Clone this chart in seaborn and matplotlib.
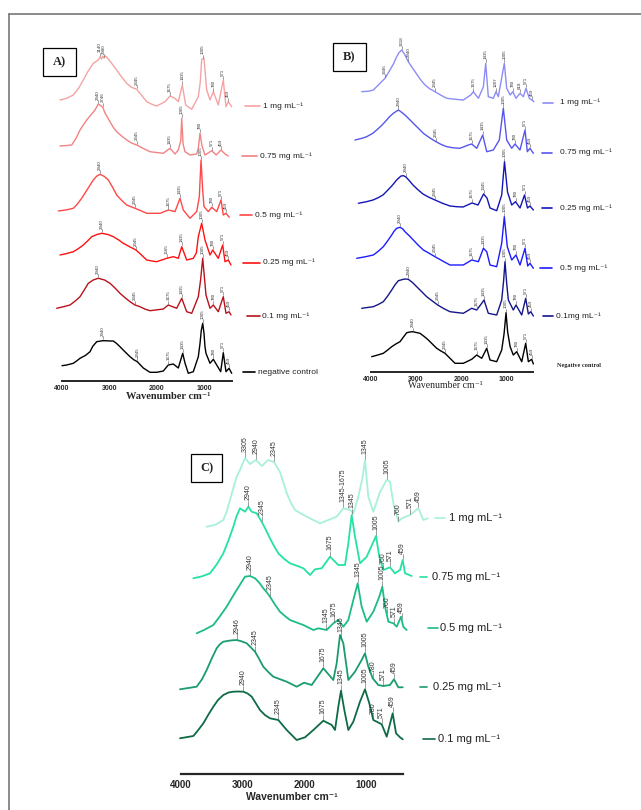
import numpy as np
import pandas as pd
import matplotlib
matplotlib.use('Agg')
import matplotlib.pyplot as plt
from matplotlib.lines import Line2D
from matplotlib.patches import Rectangle
import seaborn as sns

# ---------------- data: (wavenumber cm-1, relative absorbance) ----------------
# panel A (red series)
a_1mg = [(4042, 9.3), (3900, 11), (3761, 14.3), (3650, 21), (3550, 29.3), (3450, 38), (3338, 46), (3233, 49.3),
         (3197, 52.3), (3161, 50.3), (3140, 53.3), (3112, 51.3), (3080, 53.3), (3021, 50.3), (2950, 46),
         (2844, 39.3), (2750, 33), (2632, 26), (2530, 22), (2421, 20), (2300, 13), (2209, 7.6), (2100, 5),
         (1998, 3.3), (1822, 7.6), (1717, 13.3), (1611, 11), (1541, 7.6), (1457, 24.3), (1385, 4.3), (1258, 0),
         (1118, 12.6), (1075, 28), (1047, 50), (998, 51), (970, 35), (941, 19.3), (871, 9.3), (801, 17.6),
         (696, 4.3), (590, 29.3), (533, 2.6), (484, 7.6), (412, 2.6)]
a_075 = [(4042, 10), (3900, 10.5), (3795, 11), (3700, 18), (3619, 26), (3550, 31), (3478, 36), (3390, 41),
         (3302, 46), (3233, 52), (3140, 49), (3091, 43), (2985, 34.3), (2920, 29), (2844, 24.3), (2740, 20),
         (2632, 16), (2530, 13), (2421, 11), (2280, 7.5), (2140, 4.3), (2000, 3.5), (1858, 2.7), (1717, 7.7),
         (1611, 2), (1541, 6), (1490, 15), (1469, 37.7), (1440, 12), (1400, 4.3), (1294, 1), (1152, 2),
         (1118, 8), (1082, 22.7), (1040, 10), (977, 1), (835, 5.3), (740, 1), (638, 6), (554, 2), (484, 0)]
a_05 = [(4078, 7.3), (3900, 8.5), (3761, 10), (3680, 14), (3584, 20), (3450, 30), (3338, 38.3), (3270, 42),
        (3197, 44), (3110, 42), (3021, 38.3), (2930, 31), (2844, 23.3), (2740, 18), (2632, 13.3), (2457, 10),
        (2330, 7.5), (2209, 5), (2060, 5), (1928, 5), (1753, 8.3), (1611, 6.7), (1505, 20), (1436, 8.3),
        (1294, 0), (1152, 6.7), (1097, 21.6), (1061, 58.3), (1025, 28), (998, 11.7), (907, 6.7), (835, 11),
        (729, 6.7), (638, 18.3), (590, 3.3), (533, 5), (463, 1)]
a_025 = [(4042, 10), (3900, 11.5), (3761, 13.3), (3650, 16.5), (3550, 20), (3450, 24.5), (3372, 28.3),
         (3260, 30.5), (3161, 31.7), (3030, 30.5), (2915, 28.3), (2800, 25), (2704, 21.7), (2560, 18),
         (2436, 15), (2320, 10), (2209, 5), (2100, 4), (1998, 3.3), (1786, 6.7), (1647, 8.3), (1541, 6.7),
         (1469, 18.3), (1364, 5), (1224, 6.7), (1160, 12), (1118, 28.3), (1047, 41.7), (977, 25), (871, 10),
         (814, 15), (696, 6.7), (603, 20), (554, 3.3), (484, 5), (427, 0)]
a_01 = [(4112, 6.7), (3950, 8.5), (3831, 10), (3720, 14), (3619, 18.3), (3530, 25), (3444, 31.7), (3340, 35),
        (3233, 36.7), (3100, 35), (2985, 31.7), (2880, 27), (2774, 21.7), (2660, 17), (2562, 13.3), (2457, 10),
        (2351, 8.3), (2250, 6), (2140, 4.3), (1858, 6), (1753, 10), (1575, 6.7), (1469, 16.7), (1364, 3.3),
        (1258, 1.7), (1118, 18.3), (1070, 35), (1025, 56.7), (990, 38), (956, 20), (871, 6.7), (801, 10),
        (696, 3.3), (590, 18.3), (533, 1.7), (469, 3.3), (427, 0)]
a_neg = [(4000, 7.6), (3900, 8.3), (3761, 10), (3700, 12), (3619, 15), (3500, 18), (3408, 21.6), (3350, 27),
         (3266, 31.6), (3140, 32.6), (3050, 32.5), (2985, 32.3), (2915, 32.3), (2850, 30), (2774, 26.6),
         (2700, 23), (2562, 16.6), (2480, 13.5), (2408, 11.6), (2281, 5.3), (2140, 1), (1998, 1), (1858, 2.3),
         (1753, 8.3), (1647, 9.3), (1541, 5.3), (1448, 20), (1400, 10.3), (1330, 0), (1224, 1.6), (1118, 16.6),
         (1082, 30), (1055, 43), (1025, 50), (998, 40), (977, 26.6), (956, 20), (871, 10), (801, 14),
         (729, 8.3), (645, 1.6), (590, 20.6), (533, 1.6), (469, 5), (412, 0)]

# panel B (blue series)
b_1mg = [(4206, 10), (4050, 10.5), (3948, 11.7), (3800, 18.4), (3690, 23.4), (3579, 31.7), (3500, 38),
         (3431, 45), (3380, 49), (3319, 51.7), (3246, 46.7), (3173, 40), (3100, 35), (3024, 30), (2900, 22),
         (2803, 16.7), (2700, 13), (2581, 10), (2450, 6.5), (2322, 3.4), (2150, 2.5), (1953, 1.7), (1789, 6.7),
         (1731, 10), (1619, 3.4), (1508, 15), (1457, 38.4), (1399, 5), (1288, 3.4), (1228, 10), (1177, 5),
         (1084, 28.4), (1044, 38.4), (991, 13.4), (915, 6.7), (856, 10), (785, 3.4), (696, 8.4), (622, 5),
         (563, 13.4), (489, 3.4), (437, 1.7), (386, 0)]
b_075 = [(4355, 13.3), (4200, 15), (4096, 16.6), (3960, 20), (3874, 23.3), (3760, 28), (3652, 33.3),
         (3580, 37), (3505, 40), (3394, 43.3), (3320, 41), (3246, 38.3), (3150, 34), (3062, 30), (2950, 25),
         (2839, 20), (2700, 15.5), (2559, 11.6), (2450, 9), (2322, 6.6), (2180, 5.5), (2027, 5), (1843, 8.3),
         (1767, 9.3), (1656, 5), (1523, 18.3), (1434, 1.6), (1288, 3.3), (1155, 13.3), (1066, 45), (991, 13.3),
         (880, 5), (807, 9.3), (696, 3.3), (585, 23.3), (534, 1.6), (475, 5), (400, 0)]
b_025 = [(4280, 7.4), (4100, 9), (3955, 10.7), (3840, 13), (3735, 15.7), (3640, 20), (3541, 24.7), (3480, 28),
         (3431, 30.7), (3335, 34.7), (3280, 35), (3224, 33.7), (3150, 30), (3069, 25.7), (2960, 21),
         (2847, 16.7), (2720, 13.5), (2581, 10.7), (2420, 7.5), (2248, 4.7), (2100, 4), (1960, 3.7),
         (1760, 7.7), (1627, 5.7), (1505, 16.7), (1428, 12.7), (1361, 2.7), (1213, 0), (1102, 15.7), (1040, 49),
         (973, 18.7), (880, 5.7), (796, 9), (696, 2.7), (596, 15.7), (530, 2.7), (475, 4.7), (400, 0.7)]
b_05 = [(4317, 10), (4130, 11.5), (3948, 13.3), (3840, 17), (3727, 21.6), (3630, 27.5), (3541, 33.3),
        (3490, 37), (3431, 40), (3357, 41), (3300, 39.5), (3246, 36.6), (3150, 32.5), (3062, 28.3), (2950, 23),
        (2839, 18.3), (2710, 15), (2581, 11.6), (2420, 7.5), (2248, 3.3), (2100, 3.3), (1953, 3.3), (1767, 8.3),
        (1619, 6.6), (1508, 20), (1434, 16.6), (1361, 3.3), (1213, 1.6), (1102, 25), (1044, 51.6), (978, 21.6),
        (880, 8.3), (785, 13.3), (696, 3.3), (585, 20), (526, 2.3), (475, 5), (400, 0)]
b_01 = [(4206, 7.7), (4080, 8.5), (3948, 9.3), (3840, 11.5), (3727, 14.3), (3630, 20), (3541, 26),
        (3470, 31), (3394, 35.3), (3284, 36.7), (3230, 37), (3173, 36.7), (3080, 33.5), (2987, 29.3),
        (2880, 24.5), (2765, 19.3), (2640, 15), (2521, 11), (2390, 7.5), (2248, 4.3), (2100, 3.5), (1953, 2.7),
        (1767, 7.7), (1656, 6), (1545, 12.7), (1494, 16), (1399, 2.7), (1213, 1), (1102, 16), (1060, 35),
        (1029, 54.3), (990, 32), (955, 16), (845, 6), (785, 11), (658, 1), (570, 17.7), (511, 2), (458, 4.3),
        (400, 0)]
b_neg = [(3985, 7.3), (3850, 9), (3727, 10.7), (3630, 14), (3541, 17.3), (3450, 20), (3357, 22.3), (3280, 27),
         (3208, 31.3), (3140, 32), (3075, 32.3), (2914, 30.7), (2820, 27.5), (2729, 24), (2640, 20),
         (2543, 15.7), (2450, 13), (2359, 10.7), (2300, 8), (2248, 5.7), (2137, 0.7), (1953, 0.7), (1767, 4.7),
         (1656, 9), (1545, 5.7), (1434, 15.7), (1361, 4), (1213, 2.3), (1102, 14), (1050, 30), (1006, 51.3),
         (970, 32), (915, 17.3), (845, 9), (770, 12.3), (658, 2.3), (570, 20.7), (511, 2.3), (437, 4.7), (400, 0)]

# panel C (green series)
c_1mg = [(3584, 0), (3440, 2), (3314, 6.7), (3260, 15), (3206, 26.7), (3150, 39), (3098, 50), (3044, 56.7),
         (2963, 68.7), (2882, 62.7), (2785, 66.7), (2687, 60.7), (2590, 66.7), (2493, 64.7), (2396, 54.7),
         (2340, 44), (2287, 33.7), (2220, 24), (2152, 16.7), (2050, 13), (1963, 10), (1850, 6.5), (1747, 3.4),
         (1612, 6.7), (1477, 10), (1369, 18.4), (1261, 16.7), (1207, 13.4), (1126, 30), (1055, 50), (1018, 66.7),
         (964, 30), (883, 15), (775, 34.7), (666, 46.7), (613, 45), (558, 23.4), (477, 5), (423, 8.4),
         (288, 11.7), (153, 18.4), (72, 6.7), (0, 8.4)]
c_075 = [(3800, 0), (3660, 2), (3530, 5), (3420, 14), (3314, 25), (3230, 38), (3152, 51.6), (3100, 62),
         (3044, 70), (2963, 66.6), (2909, 71.6), (2855, 66.6), (2774, 65), (2693, 56.6), (2620, 48), (2558, 40),
         (2490, 32), (2423, 25), (2330, 19.5), (2233, 15), (2120, 12.5), (2017, 10), (1909, 3.3), (1828, 9),
         (1720, 10), (1585, 21.6), (1450, 13.3), (1342, 13.3), (1288, 35), (1234, 63.3), (1180, 41.6),
         (1099, 15), (990, 21.6), (893, 35), (839, 42.3), (786, 21.6), (721, 8.3), (613, 11), (532, 5),
         (450, 8.3), (407, 18.3), (369, 5), (261, 2.3)]
c_05 = [(3746, 0), (3620, 3.5), (3476, 8.3), (3370, 17), (3260, 26.6), (3180, 35), (3098, 43.3), (3030, 50),
        (2963, 56.6), (2882, 57.3), (2800, 55), (2730, 50.5), (2666, 45), (2610, 41), (2558, 36.6), (2480, 29),
        (2396, 21.6), (2310, 17), (2233, 13.3), (2017, 8.3), (1855, 3.3), (1774, 5), (1639, 3.3), (1531, 10),
        (1450, 13.3), (1369, 6.6), (1288, 13.3), (1207, 33.3), (1136, 50), (1072, 26.6), (990, 11.6),
        (883, 21.6), (786, 36.6), (737, 46.6), (693, 26.6), (639, 11.6), (558, 10), (504, 6.6), (434, 16.6),
        (397, 6.6), (343, 3.3)]
c_025 = [(4016, 0), (3746, 2.6), (3660, 10), (3584, 19.3), (3500, 31), (3422, 41), (3370, 45), (3314, 47.6),
         (3200, 48.8), (3098, 49.3), (3020, 48), (2935, 46), (2870, 42), (2800, 37.6), (2730, 30), (2666, 22.6),
         (2580, 17), (2504, 12.6), (2287, 7.6), (2125, 2.6), (2006, 6.6), (1882, 4.3), (1693, 21), (1531, 9.3),
         (1477, 26), (1423, 54.3), (1369, 46), (1288, 9.3), (1180, 17.6), (1072, 29.3), (1018, 36), (964, 22.6),
         (893, 11), (802, 4.3), (721, 3.3), (613, 4.3), (548, 10), (478, 2), (406, 2)]
c_01 = [(4016, 1.7), (3800, 4), (3720, 10), (3638, 16.7), (3560, 25), (3476, 33.3), (3400, 40), (3314, 45),
        (3230, 47.5), (3152, 48.3), (3070, 48.5), (2990, 48.3), (2920, 46.5), (2854, 43.3), (2790, 37),
        (2720, 30), (2640, 25), (2558, 21.7), (2423, 20), (2287, 10), (2125, 0), (1990, 2.7), (1855, 10),
        (1693, 19.3), (1557, 15), (1504, 10), (1450, 33.3), (1407, 49.3), (1353, 30), (1288, 10), (1207, 18.3),
        (1099, 38.3), (1018, 50.7), (948, 36.7), (883, 20), (828, 18.3), (747, 15.7), (666, 3.3), (569, 26.7),
        (515, 6.7), (450, 2.7), (406, 0.7)]

# peak annotations: (wavenumber position, label)
a_1mg_pk = [(3197, '3140'), (3112, '2980'), (2421, '2345'), (1717, '1675'), (1457, '1435'), (1020, '1005'),
            (801, '780'), (590, '571'), (484, '459')]
a_075_pk = [(3233, '2940'), (3140, '2746'), (2421, '2345'), (1717, '1435'), (1469, '1005'), (1082, '780'),
            (835, '571'), (638, '459')]
a_05_pk = [(3197, '2940'), (2457, '2345'), (1753, '1675'), (1505, '1435'), (1061, '1005'), (835, '780'),
           (638, '571'), (533, '459')]
a_025_pk = [(3161, '2940'), (2436, '2345'), (1786, '1565'), (1469, '1435'), (1047, '1005'), (814, '780'),
            (603, '571'), (484, '459')]
a_01_pk = [(3233, '2940'), (2457, '2345'), (1753, '1675'), (1469, '1435'), (1025, '1005'), (801, '780'),
           (590, '571'), (469, '459')]
a_neg_pk = [(3140, '2940'), (2408, '2345'), (1753, '1675'), (1448, '1435'), (1025, '1005'), (801, '780'),
            (590, '571'), (469, '459')]
b_1mg_pk = [(3690, '3346'), (3319, '3318'), (3173, '2940'), (2581, '2345'), (1731, '1675'), (1457, '1435'),
            (1228, '1207'), (1044, '1005'), (856, '780'), (696, '618'), (563, '571'), (437, '459')]
b_075_pk = [(3394, '2940'), (2559, '2345'), (1767, '1675'), (1523, '1435'), (1066, '1005'), (807, '780'),
            (585, '571'), (475, '459')]
b_025_pk = [(3224, '2940'), (2581, '2345'), (1760, '1675'), (1505, '1345'), (1040, '1005'), (796, '780'),
            (596, '571'), (475, '459')]
b_05_pk = [(3357, '2940'), (2581, '2345'), (1767, '1675'), (1508, '1435'), (1044, '1005'), (785, '780'),
           (585, '571'), (475, '459')]
b_01_pk = [(3173, '2940'), (2521, '2345'), (1656, '1675'), (1494, '1435'), (1029, '1005'), (785, '780'),
           (570, '571'), (458, '459')]
b_neg_pk = [(3075, '2940'), (2359, '2345'), (1656, '1675'), (1434, '1435'), (1006, '1005'), (770, '780'),
            (570, '571'), (437, '459')]
c_1mg_pk = [(2963, '3305'), (2785, '2940'), (2493, '2345'), (1369, '1345-1675'), (1018, '1345'),
            (666, '1005'), (477, '760'), (288, '571'), (153, '459')]
c_075_pk = [(2909, '2940'), (2693, '2345'), (1585, '1675'), (1234, '1345'), (839, '1005'), (721, '760'),
            (613, '571'), (407, '459')]
c_05_pk = [(2882, '2940'), (2558, '2345'), (1645, '1345'), (1525, '1675'), (1136, '1345'), (737, '1005'),
           (665, '760'), (550, '571'), (425, '459')]
c_025_pk = [(3098, '2946'), (2800, '2345'), (1693, '1675'), (1400, '1345'), (1018, '1005'), (893, '780'),
            (721, '571'), (548, '459')]
c_01_pk = [(2990, '2940'), (2423, '2345'), (1693, '1675'), (1407, '1345'), (1018, '1005'), (883, '780'),
           (747, '571'), (569, '459')]

ticks = [4000, 3000, 2000, 1000]
tick_labels = ['4000', '3000', '2000', '1000']
names_a = ['1 mg mL⁻¹', '0.75 mg mL⁻¹', '0.5 mg mL⁻¹', '0.25 mg mL⁻¹', '0.1 mg mL⁻¹', 'negative control']
names_b = ['1 mg mL⁻¹', '0.75 mg mL⁻¹', '0.25 mg mL⁻¹', '0.5 mg mL⁻¹', '0.1mg mL⁻¹', 'Negative control']
names_c = ['1 mg mL⁻¹', '0.75 mg mL⁻¹', '0.5 mg mL⁻¹', '0.25 mg mL⁻¹', '0.1 mg mL⁻¹']

# ---------------- style ----------------
sns.set_style('white')
plt.rcParams['font.family'] = ['Liberation Sans', 'DejaVu Sans']
SERIF = ['Liberation Serif', 'DejaVu Serif']

W, H = 641, 810
fig = plt.figure(figsize=(W / 100, H / 100), dpi=100)


def fx(px):
    return px / W


def fy(py):
    return 1 - py / H


def make_axes(left, right, top, bottom, x0px, scale):
    # scale: pixels per cm-1, x0px: pixel of 4000 cm-1
    ax = fig.add_axes([fx(left), fy(bottom), (right - left) / W, (bottom - top) / H])
    ax.set_xlim(4000 + (x0px - left) / scale, 4000 - (right - x0px) / scale)
    ax.set_ylim(0, bottom - top)
    ax.patch.set_alpha(0)
    for s in ['top', 'right', 'left']:
        ax.spines[s].set_visible(False)
    ax.spines['bottom'].set_bounds(4000, 400)
    ax.set_yticks([])
    ax.set_xticks(ticks)
    return ax


def spectrum(ax, data, offset, color, lw, peaks, fs, tick_len):
    df = pd.DataFrame(data, columns=['wn', 'ab']).sort_values('wn', ascending=False)
    df['y'] = df['ab'] + offset
    sns.lineplot(data=df, x='wn', y='y', ax=ax, color=color, lw=lw, sort=False, estimator=None)
    xs = df['wn'].values[::-1]
    ys = df['y'].values[::-1]
    for wn, txt in peaks:
        yp = np.interp(wn, xs, ys) + 1.2
        ax.plot([wn, wn], [yp, yp + tick_len], color='#555555', lw=0.4)
        ax.text(wn, yp + tick_len + 0.3, txt, rotation=90, ha='center', va='bottom',
                fontsize=fs, color='#333333')


def legend_entry(x0, x1, y, xt, txt, color, fs, lw=1.2):
    fig.add_artist(Line2D([fx(x0), fx(x1)], [fy(y), fy(y)], color=color, lw=lw))
    fig.text(fx(xt), fy(y), txt, va='center', ha='left', fontsize=fs, color='#222222')


def panel_box(x0, y0, x1, y1, txt):
    fig.add_artist(Rectangle((fx(x0), fy(y1)), (x1 - x0) / W, (y1 - y0) / H, transform=fig.transFigure,
                             fill=True, fc='white', ec='black', lw=0.9))
    fig.text(fx((x0 + x1) / 2), fy((y0 + y1) / 2), txt, ha='center', va='center', fontsize=9,
             fontweight='bold', family=SERIF)


# outer frame
fig.add_artist(Line2D([fx(9), fx(9)], [fy(14), 0], color='#777777', lw=1.2))
fig.add_artist(Line2D([fx(9), 1], [fy(14), fy(14)], color='#777777', lw=1.2))

# ---------------- panel A ----------------
axA = make_axes(50, 240, 40, 381, 62, 0.0473)
col_a = ['#f5a3a3', '#f08383', '#ff4848', '#ff1010', '#b8121b', '#000000']
data_a = [a_1mg, a_075, a_05, a_025, a_01, a_neg]
pk_a = [a_1mg_pk, a_075_pk, a_05_pk, a_025_pk, a_01_pk, a_neg_pk]
off_a = [271.7, 225, 162.7, 116, 66, 7.7]
for d, o, c, p in zip(data_a, off_a, col_a, pk_a):
    spectrum(axA, d, o, c, 1.0, p, 3.2, 3)
leg_a = [(245, 260, 106, 263), (242, 257, 156, 260), (240, 252, 215, 255),
         (243, 260, 262.7, 263), (247, 260, 316, 262), (243, 255, 372, 258)]
for (x0, x1, y, xt), n, c in zip(leg_a, names_a, col_a):
    legend_entry(x0, x1, y, xt, n, c, 6)
axA.set_xticklabels(tick_labels, fontsize=5, fontweight='bold')
axA.tick_params(axis='x', length=2, width=0.8, pad=0.8)
axA.spines['bottom'].set_linewidth(1.4)
axA.set_xlabel('')
axA.set_ylabel('')
fig.text(fx(168), fy(396), 'Wavenumber cm⁻¹', ha='center', va='center', fontsize=7.5,
         fontweight='bold', family=SERIF)
panel_box(43, 48, 76, 76, 'A)')

# ---------------- panel B ----------------
axB = make_axes(350, 540, 35, 371.7, 371, 0.0451)
col_b = ['#8c8cf7', '#5656ee', '#1414b8', '#1c1cff', '#15158a', '#000000']
data_b = [b_1mg, b_075, b_025, b_05, b_01, b_neg]
pk_b = [b_1mg_pk, b_075_pk, b_025_pk, b_05_pk, b_01_pk, b_neg_pk]
off_b = [270, 218.4, 161, 103.4, 55.7, 7.7]
for d, o, c, p in zip(data_b, off_b, col_b, pk_b):
    spectrum(axB, d, o, c, 1.0, p, 3.2, 3)
leg_b = [(543, 553, 102.7, 560), (542, 552, 152.7, 560), (542, 552, 208.3, 560),
         (540, 552, 268.3, 560), (543, 553, 316, 556)]
for (x0, x1, y, xt), n, c in zip(leg_b, names_b[:5], col_b[:5]):
    legend_entry(x0, x1, y, xt, n, c, 6)
fig.text(fx(557), fy(366), names_b[5], ha='left', va='center', fontsize=4.5, fontweight='bold',
         family=SERIF)
axB.set_xticklabels(tick_labels, fontsize=5, fontweight='bold')
axB.tick_params(axis='x', length=2, width=0.8, pad=0.8)
axB.spines['bottom'].set_linewidth(1.4)
axB.set_xlabel('')
axB.set_ylabel('')
fig.text(fx(445), fy(386), 'Wavenumber cm⁻¹', ha='center', va='center', fontsize=7, family=SERIF)
panel_box(333, 43, 366, 71, 'B)')

# ---------------- panel C ----------------
axC = make_axes(170, 435, 440, 774, 181, 0.0617)
col_c = ['#a8f0dc', '#24e3a2', '#1cbd84', '#1a9c6c', '#0f6b45']
data_c = [c_1mg, c_075, c_05, c_025, c_01]
pk_c = [c_1mg_pk, c_075_pk, c_05_pk, c_025_pk, c_01_pk]
off_c = [247.3, 195.7, 140.7, 84.7, 34]
for d, o, c, p in zip(data_c, off_c, col_c, pk_c):
    spectrum(axC, d, o, c, 1.3, p, 5, 5)
leg_c = [(435, 445, 518, 449), (420, 427, 577, 432), (428, 438, 628, 440),
         (420, 427, 687, 433), (423, 435, 739, 438)]
for (x0, x1, y, xt), n, c in zip(leg_c, names_c, col_c):
    legend_entry(x0, x1, y, xt, n, c, 8)
axC.set_xticklabels(tick_labels, fontsize=7, fontweight='bold')
axC.tick_params(axis='x', length=2.5, width=0.9, pad=2)
axC.spines['bottom'].set_linewidth(1.6)
axC.set_xlabel('')
axC.set_ylabel('')
fig.text(fx(292), fy(797), 'Wavenumber cm⁻¹', ha='center', va='center', fontsize=7.5,
         fontweight='bold')
panel_box(191, 454, 222, 482, 'C)')

fig.savefig('out.png', dpi=100)
